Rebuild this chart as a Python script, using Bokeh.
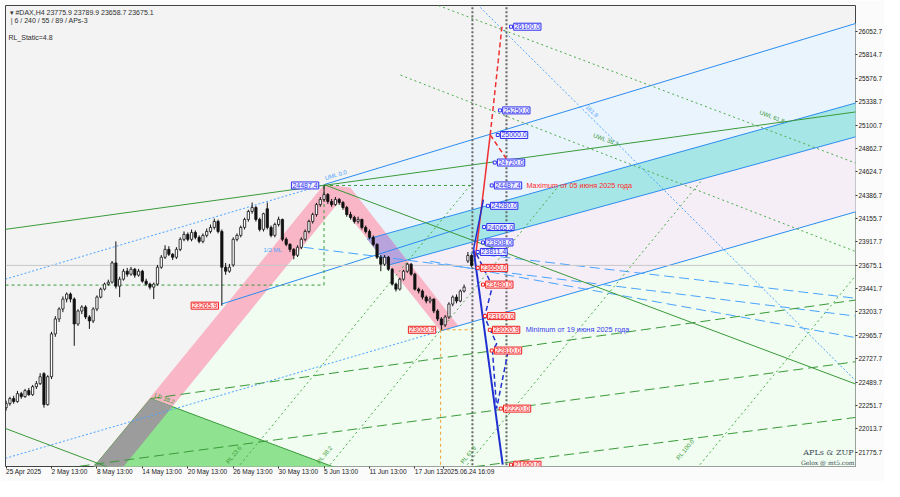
from bokeh.plotting import figure
from bokeh.models import FixedTicker, PrintfTickFormatter, Label
from bokeh.embed import file_html
from bokeh.resources import INLINE

# ---------------- candle data (H4 bars, index 0 = 25 Apr 2025) ----------------
opens = [22230, 22271, 22322, 22292, 22372, 22342, 22403, 22362, 22443, 22474,
         22575, 22261, 22544, 22979, 23131, 23232, 23333, 23384, 23333, 23080,
         23212, 23252, 23151, 23111, 23232, 23353, 23434, 23485, 23505, 23700,
         23464, 23535, 23616, 23586, 23636, 23576, 23616, 23515, 23485, 23454,
         23485, 23657, 23758, 23838, 23788, 23758, 23838, 23940, 23990, 23940,
         24010, 23960, 23919, 23980, 24020, 24061, 24122, 24020, 23657, 23616,
         23680, 23940, 23980, 24061, 24142, 24223, 24263, 24142, 24041, 24250,
         24061, 23980, 24091, 24142, 23940, 23889, 23838, 23778, 23859, 23940,
         24020, 24122, 24192, 24293, 24344, 24395, 24324, 24293, 24344, 24314,
         24263, 24192, 24162, 24122, 24142, 24061, 24020, 23960, 23889, 23758,
         23687, 23758, 23636, 23485, 23434, 23535, 23616, 23687, 23586, 23434,
         23414, 23353, 23313, 23333, 23212, 23131, 23070, 23151, 23282, 23353,
         23313, 23414, 23720, 23775.9]
highs = [22300, 22340, 22350, 22400, 22390, 22420, 22430, 22460, 22500, 22580,
         22590, 22560, 23000, 23160, 23250, 23360, 23400, 23400, 23350, 23230,
         23270, 23270, 23170, 23250, 23370, 23450, 23500, 23530, 23720, 23919,
         23560, 23640, 23650, 23660, 23650, 23640, 23630, 23540, 23500, 23500,
         23680, 23780, 23880, 23870, 23800, 23860, 23960, 24020, 24010, 24040,
         24030, 23980, 24000, 24050, 24090, 24150, 24140, 24040, 23700, 23690,
         23960, 24000, 24080, 24160, 24240, 24314, 24280, 24160, 24210, 24314,
         24080, 24110, 24170, 24150, 23960, 23900, 23850, 23880, 23960, 24040,
         24140, 24210, 24310, 24370, 24487.4, 24410, 24350, 24370, 24360, 24330,
         24280, 24220, 24180, 24170, 24150, 24080, 24040, 23980, 23900, 23780,
         23780, 23770, 23650, 23500, 23550, 23630, 23700, 23700, 23600, 23450,
         23430, 23370, 23360, 23340, 23230, 23150, 23170, 23300, 23370, 23380,
         23430, 23480, 23811.4, 23789.9]
lows = [22200, 22250, 22270, 22280, 22320, 22330, 22350, 22350, 22420, 22460,
        22230, 22250, 22520, 22950, 23100, 23200, 23300, 23300, 22858, 23060,
        23180, 23130, 23030, 23090, 23210, 23340, 23420, 23470, 23490, 23440,
        23353, 23520, 23560, 23570, 23550, 23560, 23500, 23470, 23430, 23333,
        23470, 23640, 23740, 23770, 23730, 23740, 23820, 23920, 23920, 23920,
        23940, 23900, 23900, 23960, 24000, 24040, 24000, 23265.9, 23580, 23600,
        23660, 23920, 23960, 24040, 24120, 24200, 24120, 24020, 24020, 24040,
        23960, 23960, 24070, 23920, 23870, 23810, 23737, 23760, 23840, 23920,
        24000, 24100, 24170, 24270, 24320, 24300, 24270, 24280, 24290, 24240,
        24170, 24140, 24100, 24100, 24040, 24000, 23940, 23870, 23740, 23616,
        23670, 23620, 23470, 23410, 23420, 23520, 23600, 23570, 23420, 23390,
        23330, 23290, 23290, 23190, 23110, 23020.9, 23050, 23130, 23260, 23290,
        23300, 23400, 23700, 23658.7]
closes = [22271, 22322, 22292, 22372, 22342, 22403, 22362, 22443, 22474, 22544,
          22261, 22544, 22979, 23131, 23232, 23333, 23384, 23333, 23080, 23212,
          23252, 23151, 23111, 23232, 23353, 23434, 23485, 23505, 23700, 23464,
          23535, 23616, 23586, 23636, 23576, 23616, 23515, 23485, 23454, 23485,
          23657, 23758, 23838, 23788, 23758, 23838, 23940, 23990, 23940, 24010,
          23960, 23919, 23980, 24020, 24061, 24122, 24020, 23657, 23616, 23657,
          23940, 23980, 24061, 24142, 24223, 24263, 24142, 24041, 24200, 24061,
          23980, 24091, 24142, 23940, 23889, 23838, 23778, 23859, 23940, 24020,
          24122, 24192, 24293, 24344, 24395, 24324, 24293, 24344, 24314, 24263,
          24192, 24162, 24122, 24142, 24061, 24020, 23960, 23889, 23758, 23687,
          23758, 23636, 23485, 23434, 23535, 23616, 23687, 23586, 23434, 23414,
          23353, 23313, 23333, 23212, 23131, 23070, 23151, 23282, 23353, 23313,
          23414, 23454, 23776, 23675.1]
bar_index = list(range(len(closes)))

# ---------------- axes ----------------
price_ticks = [26052.7, 25814.7, 25576.7, 25338.7, 25100.7, 24862.7, 24624.7,
               24386.7, 24155.7, 23917.7, 23675.1, 23441.7, 23203.7, 22965.7,
               22727.7, 22489.7, 22251.7, 22013.7, 21775.7, 21544.7]
last_price = 23675.1
time_ticks = [0, 12, 24, 36, 48, 60, 72, 84, 96, 108, 115.6]
time_labels = ["25 Apr 2025", "2 May 13:00", "8 May 13:00", "14 May 13:00",
               "20 May 13:00", "26 May 13:00", "30 May 13:00", "5 Jun 13:00",
               "11 Jun 13:00", "17 Jun 13", "2025.06.24 16:09"]

# ---------------- analysis objects (bar index, price anchors) ----------------
hi_bar, hi_price = 84, 24487.4
lo_bar, lo_price = 114.8, 23020.9
pink_up_x = [18.5, 26.4, 91.0, 84.0]
pink_up_y = [21412, 21412, 24465, 24496]
pink_dn_x = [84.0, 91.0, 119.5, 114.8]
pink_dn_y = [24496, 24465, 23060, 23009]
green_tri_x = [18.5, 38.2, 101.5]
green_tri_y = [21412, 22322, 21412]
gray_x = [18.5, 38.2, 43.96, 26.4]
gray_y = [21412, 22322, 22241, 21412]
honeydew_x = [26.4, 84.0, 114.8, 228.4, 228.4]
honeydew_y = [21412, 24496, 23009, 24263, 21412]
alice_x = [84.0, 228.4, 228.4, 114.8]
alice_y = [24496, 26179, 24263, 23009]
lavender_x = [100.9, 228.4, 228.4, 114.8]
lavender_y = [23677, 25023, 24263, 23009]
teal_x = [95.4, 228.4, 228.4, 100.9]
teal_y = [23942, 25367, 25023, 23677]
purple_x = [95.4, 100.5, 105.9, 100.9]
purple_y = [23942, 23995, 23725, 23677]

blue_solid = [([84.0, 228.4], [24496, 26179]), ([95.4, 228.4], [23942, 25367]),
              ([100.9, 228.4], [23677, 25023]), ([114.8, 228.4], [23009, 24263]),
              ([56.9, 122.7], [23282, 24085])]
blue_dotted = [([-0.2, 84.0], [23535, 24496]), ([-0.2, 114.8], [21715, 23009]),
               ([125.3, 226.3], [26295, 22433])]
blue_dashed = [([78.6, 226.3], [23859, 23151]), ([122.7, 226.3], [23798, 23333]),
               ([112.1, 226.3], [23717, 22929])]
green_solid = [([-0.2, 226.3], [24041, 25244]), ([84.0, 226.3], [24496, 22443]),
               ([-0.2, 41.6], [22019, 21412])]
green_longdash = [([38.2, 226.3], [22322, 23333]), ([-0.2, 226.3], [21533, 22706]),
                  ([104.2, 226.3], [21533, 22140])]
green_dotted = [([59.3, 123.2], [21533, 24516]), ([83.1, 146.5], [21533, 24506]),
                ([119.3, 183.5], [21533, 24526]), ([180.8, 226.3], [21533, 23657]),
                ([114.2, 226.3], [26315, 24688]), ([104.2, 226.3], [25608, 23788])]
level_box_y = 23475

# projection paths
red_solid_x, red_solid_y = [124.0, 127.9], [23758, 25001]
red_dash1_x, red_dash1_y = [127.9, 131.0], [25001, 26100]
red_dash2_x, red_dash2_y = [127.9, 132.7], [25001, 24728]
blue_thick_x, blue_thick_y = [123.5, 131.2], [23838, 21650]
blue_up_x, blue_up_y = [123.5, 126.1], [23838, 24344]
blue_zig_x = [124.3, 128.5, 126.4, 129.6, 128.5, 129.6, 132.5]
blue_zig_y = [23788, 23464, 23151, 22878, 22807, 22221, 22777]

blue_levels = [26100.0, 25250.0, 25000.0, 24720.0, 24487.4, 24280.0, 24065.0, 23908.0, 23811.4]
blue_level_bars = [134.1, 131.2, 130.6, 129.8, 129.0, 128.0, 127.0, 126.7, 125.3]
red_levels = [23650.0, 23480.0, 23160.0, 23020.9, 22810.0, 22220.0, 21650.0]
red_level_bars = [125.3, 126.7, 127.2, 128.5, 129.0, 131.4, 134.1]
vline_bars = [123.2, 132.2]

FONT = "Liberation Sans"
X0, X1 = -0.16, 224.41
Y0, Y1 = 21632.0, 26315.5

p = figure(width=884, height=481, x_range=(X0, X1), y_range=(Y0, Y1),
           y_axis_location="right", output_backend="svg", toolbar_location=None,
           min_border_left=5, min_border_top=5, min_border_right=27, min_border_bottom=12,
           background_fill_color="#f3f3f3", border_fill_color="#fbfbfb")
p.grid.visible = False
p.outline_line_color = "#444444"

# zones
p.patch(honeydew_x, honeydew_y, fill_color="#f0fdf0", line_color=None)
p.patch(alice_x, alice_y, fill_color="#eaf4fd", line_color=None)
p.patch(lavender_x, lavender_y, fill_color="#f5eef7", line_color=None)
p.patch(teal_x, teal_y, fill_color="#a6e6e6", line_color=None)
p.patch(pink_up_x, pink_up_y, fill_color="#f8b6c6", line_color=None)
p.patch(pink_dn_x, pink_dn_y, fill_color="#f8b6c6", line_color=None)
p.patch(purple_x, purple_y, fill_color="#b9a3dc", line_color=None)
p.patch(green_tri_x, green_tri_y, fill_color="#8fe28f", line_color="#3a9a3a", line_width=1)
p.patch(gray_x, gray_y, fill_color="#9c9c9c", line_color=None)

# lines
for xs, ys in blue_solid:
    p.line(xs, ys, line_color="#2b8cf0", line_width=1)
for xs, ys in blue_dotted:
    p.line(xs, ys, line_color="#4aa3ff", line_width=1, line_dash="2 2")
for xs, ys in blue_dashed:
    p.line(xs, ys, line_color="#4aa3ff", line_width=1, line_dash="10 5")
for xs, ys in green_solid:
    p.line(xs, ys, line_color="#3a9a3a", line_width=1)
for xs, ys in green_longdash:
    p.line(xs, ys, line_color="#3a9a3a", line_width=1, line_dash="10 5")
for xs, ys in green_dotted:
    p.line(xs, ys, line_color="#4aaa4a", line_width=1, line_dash="2 3")

p.line([X0, hi_bar], [level_box_y, level_box_y], line_color="#3a9a3a", line_dash="3 3")
p.line([hi_bar, hi_bar], [level_box_y, hi_price], line_color="#3a9a3a", line_dash="3 3")
p.line([hi_bar, vline_bars[0]], [hi_price, hi_price], line_color="#3a9a3a", line_dash="3 3")
p.line([lo_bar, lo_bar], [lo_price, 21400], line_color="#f0a030", line_dash="3 3")
p.line([lo_bar, vline_bars[0]], [lo_price, lo_price], line_color="#f0a030", line_dash="3 3")

p.line([X0, X1], [last_price, last_price], line_color="#c8c8c8", line_width=1)
for vb in vline_bars:
    p.line([vb, vb], [21400, 26400], line_color="#666666", line_width=2, line_dash="2 2")

# candles
up = [i for i in bar_index if closes[i] >= opens[i]]
dn = [i for i in bar_index if closes[i] < opens[i]]
p.segment(bar_index, highs, bar_index, lows, line_color="#111111", line_width=1)
p.vbar(x=[bar_index[i] for i in up], width=0.6,
       top=[closes[i] for i in up], bottom=[opens[i] for i in up],
       fill_color="#ffffff", line_color="#111111", line_width=0.8)
p.vbar(x=[bar_index[i] for i in dn], width=0.6,
       top=[opens[i] for i in dn], bottom=[closes[i] for i in dn],
       fill_color="#111111", line_color="#111111", line_width=0.8)

# projections
p.line(red_solid_x, red_solid_y, line_color="#f03030", line_width=1.5)
p.line(red_dash1_x, red_dash1_y, line_color="#f03030", line_width=1.5, line_dash="5 3")
p.line(red_dash2_x, red_dash2_y, line_color="#f03030", line_width=1.5, line_dash="5 3")
p.line(blue_thick_x, blue_thick_y, line_color="#2030d0", line_width=2)
p.line(blue_up_x, blue_up_y, line_color="#2030d0", line_width=1.5)
p.line(blue_zig_x, blue_zig_y, line_color="#2030d0", line_width=1.5, line_dash="5 3")

# level boxes
def box(xb, yv, txt, col, bg, align="left"):
    p.add_layout(Label(x=xb, y=yv, text=txt, text_font=FONT, text_font_size="7px",
                       text_color=col, text_baseline="middle", text_align=align,
                       background_fill_color=bg, border_line_color=col,
                       border_line_width=1, padding=1))

for xb, lv in zip(blue_level_bars, blue_levels):
    p.scatter([xb - 0.7], [lv], marker="square", size=3, fill_color="white", line_color="#3030f0")
    box(xb, lv, f"{lv:.1f}", "#3030f0", "#eeeeff")
for xb, lv in zip(red_level_bars, red_levels):
    p.scatter([xb - 0.7], [lv], marker="square", size=3, fill_color="white", line_color="#f02020")
    box(xb, lv, f"{lv:.1f}", "#f02020", "#ffe6e6")
box(82.6, hi_price, f"{hi_price:.1f}", "#3030f0", "#eeeeff", "right")
box(56.1, 23265.9, "23265.9", "#f02020", "#ffe6e6", "right")
box(113.5, lo_price, f"{lo_price:.1f}", "#f02020", "#ffe6e6", "right")

p.add_layout(Label(x=137.5, y=hi_price, text="Maximum от 05 июня 2025 года", text_font=FONT,
                   text_font_size="7.3px", text_color="#ff2a2a", text_baseline="middle"))
p.add_layout(Label(x=137.3, y=lo_price, text="Minimum от 19 июня 2025 года", text_font=FONT,
                   text_font_size="7.3px", text_color="#3a3af0", text_baseline="middle"))

# small object captions
def cap(xb, yv, txt, col, ang):
    p.add_layout(Label(x=xb, y=yv, text=txt, text_font=FONT, text_font_size="6px",
                       text_color=col, angle=ang, text_baseline="bottom"))
cap(84.5, 24530, "UML 0.0", "#4aa3ff", 0.29)
cap(154.9, 24971, "UWL 38.2", "#3a9a3a", -0.36)
cap(198.8, 25203, "UWL 61.8", "#3a9a3a", -0.36)
cap(39.0, 22330, "LD 38.2", "#3a9a3a", -0.36)
cap(59.0, 21650, "RL 23.6", "#3a9a3a", 0.88)
cap(83.0, 21650, "RL 38.2", "#3a9a3a", 0.88)
cap(121.0, 21650, "RL 61.8", "#3a9a3a", 0.88)
cap(178.0, 21690, "RL 100.0", "#3a9a3a", 0.88)
cap(68.0, 23800, "1/2 ML", "#4aa3ff", 0.0)
cap(153.0, 25280, "161.8", "#4aa3ff", -0.78)

# header / footer texts
def txt(xb, yv, s, size="7px", col="#303030", font=FONT):
    p.add_layout(Label(x=xb, y=yv, text=s, text_font=font, text_font_size=size,
                       text_color=col, text_baseline="middle"))
txt(0.9, 26245, "▾ #DAX,H4  23775.9 23789.9 23658.7 23675.1")
txt(1.2, 26164, "| 6 / 240 / 55 / 89 / APs-3")
txt(0.6, 25992, "RL_Static=4.8")
txt(210.6, 21770, "APLs & ZUP", "8px", "#404a5a", "DejaVu Serif")
txt(210.0, 21668, "Gelox @ mt5.com", "6px", "#404a5a", "DejaVu Serif")

# axes styling
p.yaxis.ticker = FixedTicker(ticks=price_ticks)
p.yaxis.formatter = PrintfTickFormatter(format="%.1f")
p.xaxis.ticker = FixedTicker(ticks=time_ticks)
p.xaxis.major_label_overrides = {t: l for t, l in zip(time_ticks, time_labels)}
for ax in (p.xaxis[0], p.yaxis[0]):
    ax.axis_line_color = None
    ax.major_tick_out = 2
    ax.major_tick_in = 0
    ax.minor_tick_line_color = None
    ax.major_tick_line_color = "#333333"
    ax.major_label_text_font = FONT
    ax.major_label_text_font_size = "6.5px"
    ax.major_label_text_color = "#202020"
    ax.major_label_standoff = 1
p.xaxis.major_label_orientation = -0.0001
p.xaxis.major_label_standoff = 3

open("out.html", "w").write(file_html(p, INLINE))
